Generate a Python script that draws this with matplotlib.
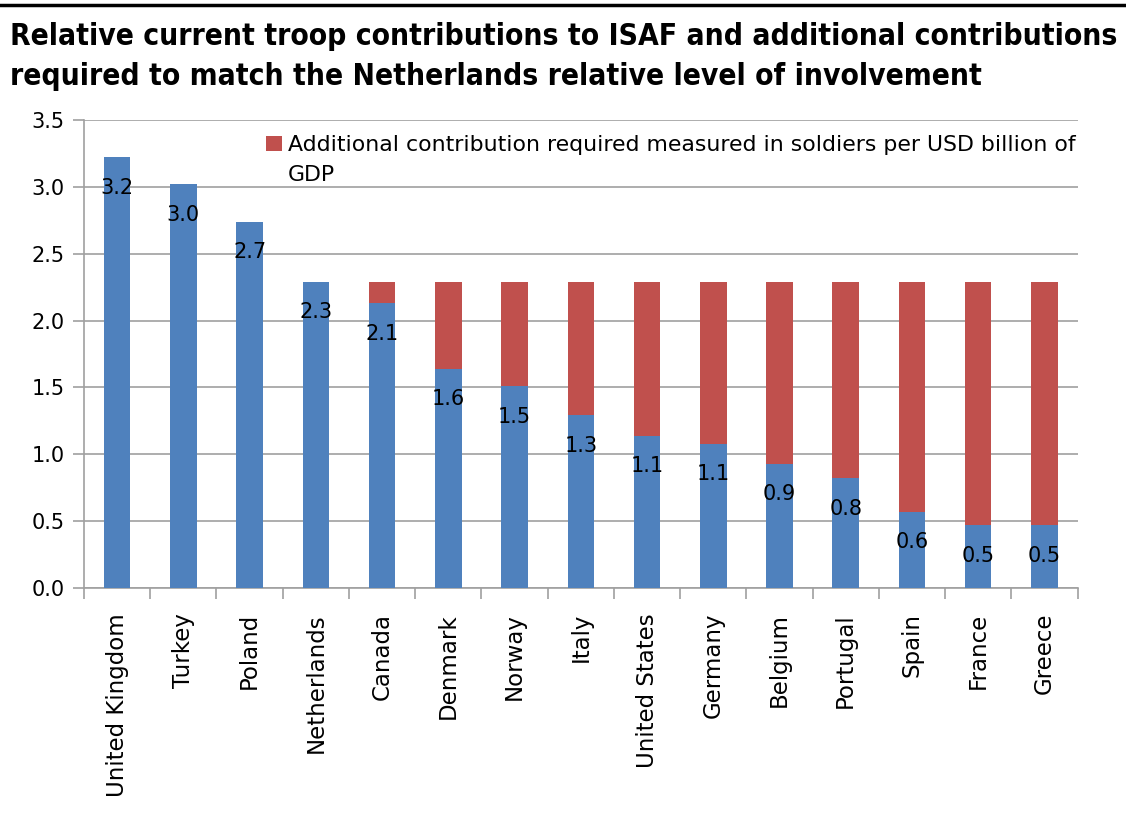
import matplotlib
matplotlib.use("Agg")
import matplotlib.pyplot as plt
from matplotlib.lines import Line2D
import numpy as np

# values (soldiers per USD billion of GDP)
countries = ["United Kingdom", "Turkey", "Poland", "Netherlands", "Canada",
             "Denmark", "Norway", "Italy", "United States", "Germany",
             "Belgium", "Portugal", "Spain", "France", "Greece"]
current = [3.22, 3.02, 2.74, 2.29, 2.13, 1.64, 1.51, 1.29, 1.14, 1.08,
           0.93, 0.82, 0.57, 0.47, 0.47]
labels = ["3.2", "3.0", "2.7", "2.3", "2.1", "1.6", "1.5", "1.3", "1.1", "1.1",
          "0.9", "0.8", "0.6", "0.5", "0.5"]
netherlands_level = 2.29
additional = [max(netherlands_level - v, 0) for v in current]

blue = "#4F81BD"
red = "#C0504D"
grey = "#A0A0A0"

fig = plt.figure(figsize=(11.26, 8.27), dpi=100)
ax = fig.add_axes([0.0746, 0.289, 0.8824, 0.566])

x = np.arange(len(countries))
ax.bar(x, current, width=0.4, color=blue, zorder=3)
ax.bar(x, additional, width=0.4, bottom=current, color=red, zorder=3,
       label="Additional contribution required measured in soldiers per USD billion of")

# value labels just inside the top of the blue bars
for xi, v, t in zip(x, current, labels):
    ax.annotate(t, (xi, v), xytext=(0, -22), textcoords="offset points",
                ha="center", va="center", fontsize=15, zorder=4)

ax.set_xlim(-0.5, len(countries) - 0.5)
ax.set_ylim(0, 3.5)
ax.set_yticks(np.arange(0, 3.51, 0.5))
ax.set_yticklabels([f"{v:.1f}" for v in np.arange(0, 3.51, 0.5)], fontsize=15)
ax.yaxis.grid(True, color=grey, linewidth=1.2, zorder=0)

ax.set_xticks(x)
ax.set_xticklabels(countries, rotation=90, fontsize=16.5)
ax.set_xticks(np.arange(-0.5, len(countries), 1), minor=True)
ax.tick_params(axis="x", which="major", length=0, pad=18)
ax.tick_params(axis="x", which="minor", length=8, color=grey, width=1.2)
ax.tick_params(axis="y", length=8, color=grey, width=1.2, pad=6)

for s in ["top", "right"]:
    ax.spines[s].set_visible(False)
for s in ["left", "bottom"]:
    ax.spines[s].set_color(grey)
    ax.spines[s].set_linewidth(1.2)

leg = ax.legend(loc="upper right", bbox_to_anchor=(1.018, 1.01), frameon=False,
                fontsize=15.8, handlelength=0.7, handleheight=0.7, handletextpad=0.3)

# second line of the legend label, lined up under the first
fig.canvas.draw()
bb = leg.get_texts()[0].get_window_extent().transformed(fig.transFigure.inverted())
fig.text(bb.x0, bb.y0 - 0.012, "GDP", ha="left", va="top", fontsize=15.8)

fig.text(0.009, 0.974, "Relative current troop contributions to ISAF and additional contributions\n"
         "required to match the Netherlands relative level of involvement",
         ha="left", va="top", fontsize=21.5, fontweight="bold", fontstretch="condensed",
         family="DejaVu Sans", linespacing=1.5)

fig.add_artist(Line2D([0, 1], [0.994, 0.994], color="black", linewidth=2.5,
                      transform=fig.transFigure))

fig.savefig("out.png", dpi=100)
